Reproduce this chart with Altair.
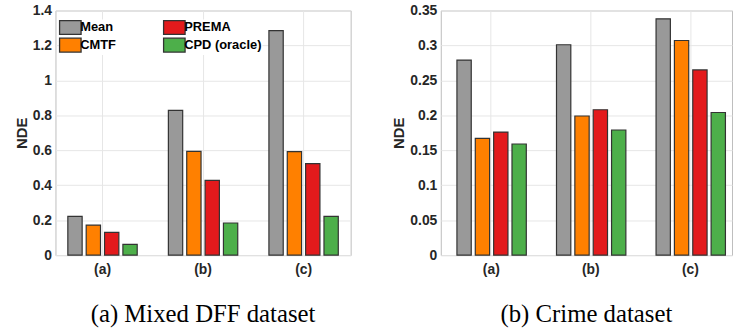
import altair as alt
import pandas as pd

categories = ["(a)", "(b)", "(c)"]
methods = ["Mean", "CMTF", "PREMA", "CPD (oracle)"]
colors = ["#999999", "#FF8000", "#E31A1C", "#4DAF4A"]

dff_mean = [0.222, 0.828, 1.285]
dff_cmtf = [0.172, 0.594, 0.592]
dff_prema = [0.130, 0.428, 0.524]
dff_cpd = [0.062, 0.184, 0.222]

crime_mean = [0.279, 0.301, 0.338]
crime_cmtf = [0.167, 0.199, 0.307]
crime_prema = [0.176, 0.208, 0.265]
crime_cpd = [0.159, 0.179, 0.204]

dff_ticks = [0, 0.2, 0.4, 0.6, 0.8, 1.0, 1.2, 1.4]
crime_ticks = [0, 0.05, 0.1, 0.15, 0.2, 0.25, 0.3, 0.35]


def table(series):
    rows = []
    for m, vals in zip(methods, series):
        for c, v in zip(categories, vals):
            rows.append({"cat": c, "method": m, "value": v})
    return pd.DataFrame(rows)


dff = table([dff_mean, dff_cmtf, dff_prema, dff_cpd])
crime = table([crime_mean, crime_cmtf, crime_prema, crime_cpd])

FONT = "Liberation Sans"


def panel(df, ticks, ymax, width, caption, show_legend, pad_outer, align):
    color_scale = alt.Scale(domain=methods, range=colors)
    if show_legend:
        legend = alt.Legend(
            title=None, orient="none", legendX=7, legendY=9, columns=2,
            columnPadding=44, rowPadding=-3,
            symbolType="M-1.55,-1H1.55V1H-1.55Z", symbolSize=196,
            symbolStrokeColor="#333333", symbolStrokeWidth=1.3,
            labelFont=FONT, labelFontSize=13, labelFontWeight="bold",
            labelColor="#000000", labelOffset=2, fillColor="white",
        )
    else:
        legend = None
    return alt.Chart(df).mark_bar(stroke="#333333", strokeWidth=1.2).encode(
        x=alt.X("cat:N", sort=categories, title=None,
                scale=alt.Scale(paddingInner=0.31, paddingOuter=pad_outer, align=align),
                axis=alt.Axis(labelAngle=0, grid=True, ticks=False, domain=False,
                              labelFont=FONT, labelFontSize=14, labelFontWeight="bold",
                              labelColor="#262626", labelPadding=8, bandPosition=0.5)),
        xOffset=alt.XOffset("method:N", sort=methods,
                            scale=alt.Scale(paddingInner=0.22)),
        y=alt.Y("value:Q", title="NDE",
                scale=alt.Scale(domain=[0, ymax], nice=False),
                axis=alt.Axis(values=ticks, format="~g", grid=True, ticks=False, domain=False,
                              labelFont=FONT, labelFontSize=14, labelFontWeight="bold",
                              labelColor="#262626", labelPadding=4,
                              titleFont=FONT, titleFontSize=15, titleFontWeight="bold",
                              titleColor="#262626", titlePadding=3)),
        color=alt.Color("method:N", scale=color_scale, legend=legend),
    ).properties(
        width=width, height=247,
        title=alt.TitleParams(caption, orient="bottom", font="Liberation Serif",
                              fontSize=25, fontWeight="normal", color="#000000",
                              frame="group", offset=25),
    )


left = panel(dff, dff_ticks, 1.4, 298, "(a) Mixed DFF dataset", True, 0.123, 0.5)
right = panel(crime, crime_ticks, 0.35, 294, "(b) Crime dataset", False, 0.1175, 0.69)

chart = alt.hconcat(left, right, spacing=40).resolve_scale(
    color="independent"
).properties(
    padding={"left": 14, "top": 1, "right": 0, "bottom": 0}
).configure_view(
    stroke="#bdbdbd", strokeWidth=1
).configure_axis(
    gridColor="#e6e6e6", gridWidth=1
)

chart.save("out.html", embed_options={"renderer": "svg", "actions": False})
